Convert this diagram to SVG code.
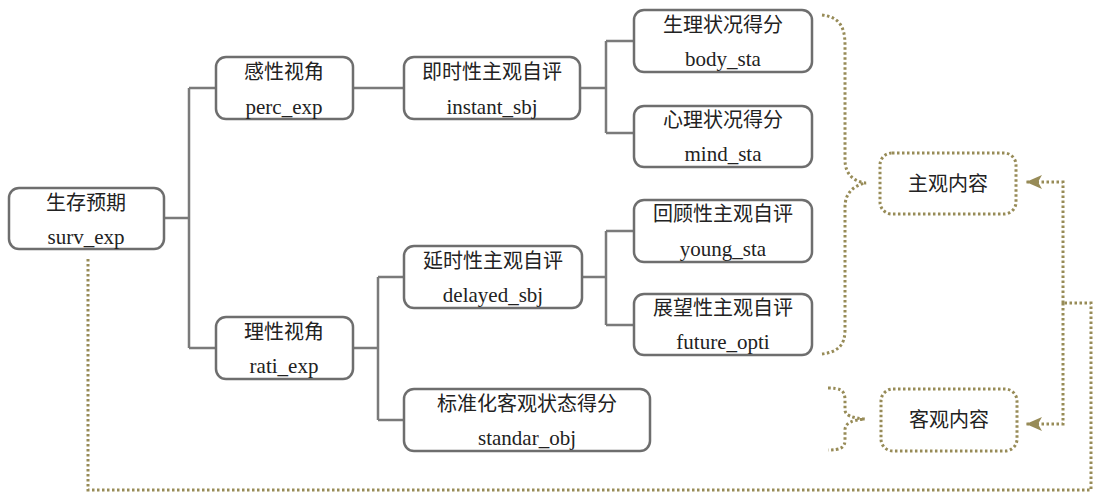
<svg xmlns="http://www.w3.org/2000/svg" width="1099" height="493" viewBox="0 0 1099 493">
<defs>
<style>
.box{fill:#fff;stroke:#6e6e6e;stroke-width:2.5}
.ln{fill:none;stroke:#7a7a7a;stroke-width:2.5}
.dot{fill:none;stroke:#978b57;stroke-width:3;stroke-dasharray:2.5 2.5}
.cn{font-family:"Noto Sans CJK SC",sans-serif;font-size:20px;fill:#222;text-anchor:middle}
.en{font-family:'Liberation Serif','DejaVu Serif',serif;font-size:21px;fill:#222;text-anchor:middle}
</style>
<marker id="ah" markerWidth="18" markerHeight="14" refX="16" refY="7" orient="auto" markerUnits="userSpaceOnUse">
<path d="M0,0 L16,7 L0,14 L4,7 Z" fill="#978b57"/>
</marker>
</defs>
<rect width="1099" height="493" fill="#fff"/>
<g id="connectors">
<path class="ln" d="M164,218 H189 M189,88 V348 M189,88 H216 M189,348 H216"/>
<path class="ln" d="M353,88 H404"/>
<path class="ln" d="M580,88 H606 M606,41 V133 M606,41 H634 M606,133 H634"/>
<path class="ln" d="M353,348 H378 M378,277 V420 M378,277 H404 M378,420 H404"/>
<path class="ln" d="M580,277 H606 M606,231 V325 M606,231 H634 M606,325 H634"/>
<path class="dot" d="M822,15 C838,17 845,25 845,45 L845,160 C845,175 855,182 866,183 C855,185 845,192 845,207 L845,330 C845,345 838,352 822,354"/>
<path class="dot" d="M828,388 C840,388 845,390 845,400 L845,410 C845,415 852,418 865,419 C852,420 845,423 845,430 L845,440 C845,448 840,450 828,450"/>
<path class="dot" d="M88,259 V490 H1091 V303 H1063"/>
<path class="dot" d="M1063,303 V182 H1026" marker-end="url(#ah)"/>
<path class="dot" d="M1063,303 V424 H1026" marker-end="url(#ah)"/>
</g>
<g id="surv_exp"><rect class="box" x="9" y="188" width="155" height="61" rx="10"/><text class="cn" x="86" y="210">生存预期</text><text class="en" x="86" y="244" font-family="Liberation Serif">surv_exp</text></g>
<g id="perc_exp"><rect class="box" x="216" y="57" width="137" height="62" rx="10"/><text class="cn" x="284" y="79">感性视角</text><text class="en" x="284" y="114">perc_exp</text></g>
<g id="instant_sbj"><rect class="box" x="404" y="57" width="176" height="62" rx="10"/><text class="cn" x="492" y="79">即时性主观自评</text><text class="en" x="492" y="114">instant_sbj</text></g>
<g id="body_sta"><rect class="box" x="634" y="10" width="178" height="62" rx="10"/><text class="cn" x="723" y="32">生理状况得分</text><text class="en" x="723" y="66">body_sta</text></g>
<g id="mind_sta"><rect class="box" x="634" y="106" width="178" height="61" rx="10"/><text class="cn" x="723" y="127">心理状况得分</text><text class="en" x="723" y="161">mind_sta</text></g>
<g id="young_sta"><rect class="box" x="634" y="200" width="178" height="62" rx="10"/><text class="cn" x="723" y="221">回顾性主观自评</text><text class="en" x="723" y="256">young_sta</text></g>
<g id="future_opti"><rect class="box" x="634" y="294" width="178" height="61" rx="10"/><text class="cn" x="723" y="315">展望性主观自评</text><text class="en" x="723" y="349">future_opti</text></g>
<g id="delayed_sbj"><rect class="box" x="404" y="246" width="178" height="62" rx="10"/><text class="cn" x="493" y="268">延时性主观自评</text><text class="en" x="493" y="302">delayed_sbj</text></g>
<g id="rati_exp"><rect class="box" x="216" y="317" width="137" height="62" rx="10"/><text class="cn" x="284" y="339">理性视角</text><text class="en" x="284" y="373">rati_exp</text></g>
<g id="standar_obj"><rect class="box" x="404" y="389" width="246" height="62" rx="10"/><text class="cn" x="527" y="411">标准化客观状态得分</text><text class="en" x="527" y="445">standar_obj</text></g>
<g id="subjective"><rect class="dot" x="880" y="153" width="136" height="61" rx="12"/><text class="cn" x="948" y="191">主观内容</text></g>
<g id="objective"><rect class="dot" x="881" y="389" width="136" height="62" rx="12"/><text class="cn" x="949" y="427">客观内容</text></g>
</svg>
